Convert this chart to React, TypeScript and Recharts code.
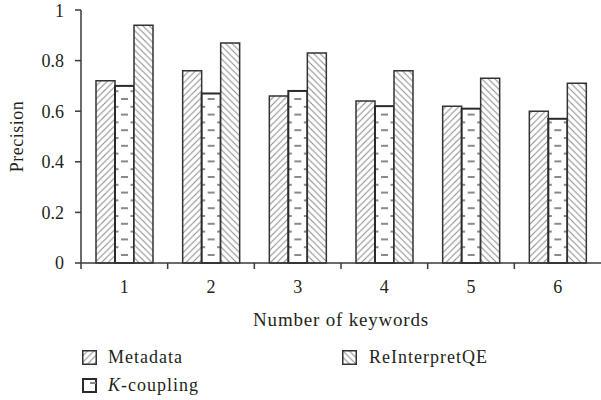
import { BarChart, Bar, XAxis, YAxis, Legend, Label } from "recharts";

const keywords = ["1", "2", "3", "4", "5", "6"];
const metadata = [0.72, 0.76, 0.66, 0.64, 0.62, 0.6];
const kCoupling = [0.7, 0.67, 0.68, 0.62, 0.61, 0.57];
const reInterpretQE = [0.94, 0.87, 0.83, 0.76, 0.73, 0.71];
const seriesNames = ["Metadata", "K-coupling", "ReInterpretQE"];
const yTicks = [0, 0.2, 0.4, 0.6, 0.8, 1];

const data = keywords.map((k, i) => ({
  keyword: k,
  [seriesNames[0]]: metadata[i],
  [seriesNames[1]]: kCoupling[i],
  [seriesNames[2]]: reInterpretQE[i],
}));

const FONT = '"Liberation Serif", "Times New Roman", serif';
const INK = "#231f20";
const AXIS = "#3a3a3a";
const HATCH = "#8a8a8a";

// brick-like dashes used for the K-coupling bars
const DashedBar = (props: any) => {
  const { x, y, width, height } = props;
  if (!height || height <= 0) return null;
  const cx = x + width / 2;
  const dashes: any[] = [];
  let row = 0;
  for (let yy = y + height - 8; yy > y + 2; yy -= 7.8) {
    if (row % 2 === 0) {
      dashes.push(<line key={row} x1={cx - 3.5} x2={cx + 3.5} y1={yy} y2={yy} stroke={HATCH} strokeWidth={2} />);
    } else {
      dashes.push(
        <g key={row}>
          <line x1={x} x2={x + 3.5} y1={yy} y2={yy} stroke={HATCH} strokeWidth={2} />
          <line x1={x + width - 3.5} x2={x + width} y1={yy} y2={yy} stroke={HATCH} strokeWidth={2} />
        </g>
      );
    }
    row++;
  }
  return (
    <g>
      <rect x={x} y={y} width={width} height={height} fill="#fff" />
      {dashes}
      <rect x={x} y={y} width={width} height={height} fill="none" stroke="#2a2a2a" strokeWidth={2} />
    </g>
  );
};

const XTick = (props: any) => {
  const { x, y, payload } = props;
  const half = payload && payload.offset ? payload.offset : 43.33;
  return (
    <g>
      <line x1={x - half} x2={x - half} y1={y} y2={y + 6} stroke={AXIS} strokeWidth={1.5} />
      <text x={x} y={y + 30} textAnchor="middle" fontSize={18} fill={INK} style={{ fontFamily: FONT }}>
        {payload.value}
      </text>
    </g>
  );
};

const Swatch = ({ kind }: { kind: number }) => (
  <svg width={15} height={15} style={{ position: "absolute", left: 0, top: 0 }}>
    {kind === 1 ? (
      <g>
        <rect x={1} y={1} width={13} height={13} fill="#fff" stroke="#2a2a2a" strokeWidth={2} />
        <line x1={8} x2={14} y1={5} y2={5} stroke={HATCH} strokeWidth={2} />
      </g>
    ) : (
      <rect
        x={0.75}
        y={0.75}
        width={13.5}
        height={13.5}
        fill={kind === 0 ? "url(#hatchFwd)" : "url(#hatchBack)"}
        stroke="#333"
        strokeWidth={1.5}
      />
    )}
  </svg>
);

const LegendContent = () => {
  const spots = [
    { left: 82, top: 19 },
    { left: 82, top: 47 },
    { left: 342, top: 19 },
  ];
  return (
    <div style={{ position: "relative", width: 601, height: 69, fontFamily: FONT, fontSize: 18, color: INK }}>
      {seriesNames.map((name, i) => {
        const s = spots[i];
        return (
          <div key={name} style={{ position: "absolute", left: s.left, top: s.top, height: 16 }}>
            <Swatch kind={i} />
            <span
              style={{
                position: "absolute",
                left: i === 2 ? 27 : 26,
                top: -2,
                lineHeight: "18px",
                whiteSpace: "nowrap",
                letterSpacing: 1,
              }}
            >
              {name.startsWith("K-") ? (
                <>
                  <i>K</i>
                  {name.slice(1)}
                </>
              ) : (
                name
              )}
            </span>
          </div>
        );
      })}
    </div>
  );
};

export default function App() {
  return (
    <div style={{ position: "absolute", left: 0, top: 0, width: 601, height: 400, background: "#fff", fontFamily: FONT }}>
      <BarChart
        width={601}
        height={400}
        data={data}
        margin={{ top: 10, right: 0, bottom: 0, left: 0 }}
        barGap={0}
      >
        <defs>
          <pattern id="hatchFwd" patternUnits="userSpaceOnUse" width={6.5} height={6.5}>
            <rect width={6.5} height={6.5} fill="#fff" />
            <path d="M-1,1 l2,-2 M0,6.5 l6.5,-6.5 M5.5,7.5 l2,-2" stroke={HATCH} strokeWidth={1} />
          </pattern>
          <pattern id="hatchBack" patternUnits="userSpaceOnUse" width={6.5} height={6.5}>
            <rect width={6.5} height={6.5} fill="#fff" />
            <path d="M-1,5.5 l2,2 M0,0 l6.5,6.5 M5.5,-1 l2,2" stroke={HATCH} strokeWidth={1} />
          </pattern>
        </defs>
        <XAxis
          dataKey="keyword"
          height={68}
          tickSize={0}
          tickMargin={0}
          tickLine={false}
          axisLine={{ stroke: AXIS, strokeWidth: 1.5 }}
          tick={<XTick />}
          interval={0}
        >
          <Label
            value="Number of keywords"
            position="insideBottom"
            offset={5}
            style={{ fontSize: 19, fill: INK, fontFamily: FONT, letterSpacing: 0.8 }}
          />
        </XAxis>
        <YAxis
          width={81}
          domain={[0, 1]}
          ticks={yTicks}
          tickSize={6}
          tickMargin={11}
          tickLine={{ stroke: AXIS, strokeWidth: 1.5 }}
          axisLine={{ stroke: AXIS, strokeWidth: 1.5 }}
          tick={{ fontSize: 18, fill: INK, fontFamily: FONT }}
          tickFormatter={(v: number) => String(v)}
        >
          <Label
            value="Precision"
            angle={-90}
            position="insideLeft"
            offset={17}
            style={{ textAnchor: "middle", fontSize: 18, fill: INK, fontFamily: FONT, letterSpacing: 0.5 }}
          />
        </YAxis>
        <Legend verticalAlign="bottom" content={<LegendContent />} wrapperStyle={{ left: 0, width: 601 }} />
        <Bar dataKey={seriesNames[0]} barSize={19} fill="url(#hatchFwd)" stroke="#333" strokeWidth={1.5} isAnimationActive={false} />
        <Bar dataKey={seriesNames[1]} barSize={19} fill="#fff" shape={<DashedBar />} isAnimationActive={false} />
        <Bar dataKey={seriesNames[2]} barSize={19} fill="url(#hatchBack)" stroke="#333" strokeWidth={1.5} isAnimationActive={false} />
      </BarChart>
    </div>
  );
}
